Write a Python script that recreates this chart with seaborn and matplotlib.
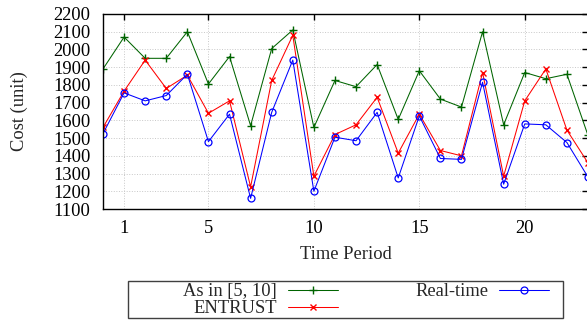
import pandas as pd
import matplotlib.pyplot as plt
import matplotlib.patches as mpatches
import seaborn as sns

periods = list(range(0, 24))
as_in = [1890, 2070, 1950, 1950, 2100, 1805, 1960, 1570, 2005, 2110,
         1560, 1825, 1790, 1915, 1605, 1880, 1720, 1675, 2100, 1575,
         1870, 1835, 1860, 1515]
entrust = [1560, 1765, 1940, 1780, 1855, 1640, 1710, 1225, 1825, 2080,
           1285, 1520, 1575, 1730, 1415, 1635, 1430, 1400, 1870, 1285,
           1710, 1890, 1545, 1360]
realtime = [1525, 1755, 1710, 1740, 1860, 1480, 1635, 1160, 1645, 1940,
            1200, 1505, 1485, 1645, 1275, 1625, 1385, 1380, 1815, 1240,
            1580, 1575, 1475, 1280]
x_ticks = [1, 5, 10, 15, 20]
y_ticks = list(range(1100, 2201, 100))

df = pd.DataFrame({'period': periods, 'As in [5, 10]': as_in,
                   'ENTRUST': entrust, 'Real-time': realtime})

sns.set_theme(style='white')
plt.rcParams['font.family'] = ['Liberation Serif', 'DejaVu Serif']
fs = 13.3

fig = plt.figure(figsize=(5.87, 3.21), dpi=100)
ax = fig.add_axes([103 / 587, 1 - 209 / 321, 485 / 587, 195 / 321])

sns.lineplot(data=df, x='period', y='As in [5, 10]', ax=ax, color='#006400',
             marker='+', markersize=6, mec='#006400', mew=1.0, lw=0.75,
             label='As in [5, 10]')
sns.lineplot(data=df, x='period', y='ENTRUST', ax=ax, color='#ff0000',
             marker='x', markersize=4.5, mec='#ff0000', mew=1.0, lw=0.75,
             label='ENTRUST')
sns.lineplot(data=df, x='period', y='Real-time', ax=ax, color='#0000ff',
             marker='o', markersize=5, mec='#0000ff', mfc='none', mew=0.9,
             lw=0.75, label='Real-time')

ax.set_xlim(0, 23)
ax.set_ylim(1100, 2200)
ax.set_xticks(x_ticks)
ax.set_yticks(y_ticks)
ax.tick_params(direction='in', length=4, width=1, colors='black',
               top=True, right=True, labelsize=fs)
ax.tick_params(axis='x', pad=8)
ax.tick_params(axis='y', pad=9)
ax.grid(True, linestyle=':', color='#c8c8c8', linewidth=0.7)
for s in ax.spines.values():
    s.set_color('black')
    s.set_linewidth(1.0)

ax.set_xlabel('Time Period', fontsize=fs)
ax.set_ylabel('Cost (unit)', fontsize=fs)
ax.xaxis.set_label_coords(0.5, -0.19)
ax.yaxis.set_label_coords(-0.155, 0.5)

ax.legend(loc='center', bbox_to_anchor=(366 / 587, 1 - 300 / 321),
          bbox_transform=fig.transFigure, ncol=2, markerfirst=False,
          frameon=False, fontsize=fs, handlelength=2.7,
          handletextpad=0.6, columnspacing=4.2, labelspacing=0.0,
          borderpad=0)
fig.patches.append(mpatches.Rectangle((128 / 587, 1 - 318 / 321),
                                      435 / 587, 37 / 321,
                                      transform=fig.transFigure,
                                      fill=False, edgecolor='#404040',
                                      linewidth=1.0))

plt.savefig('out.png', dpi=100)
